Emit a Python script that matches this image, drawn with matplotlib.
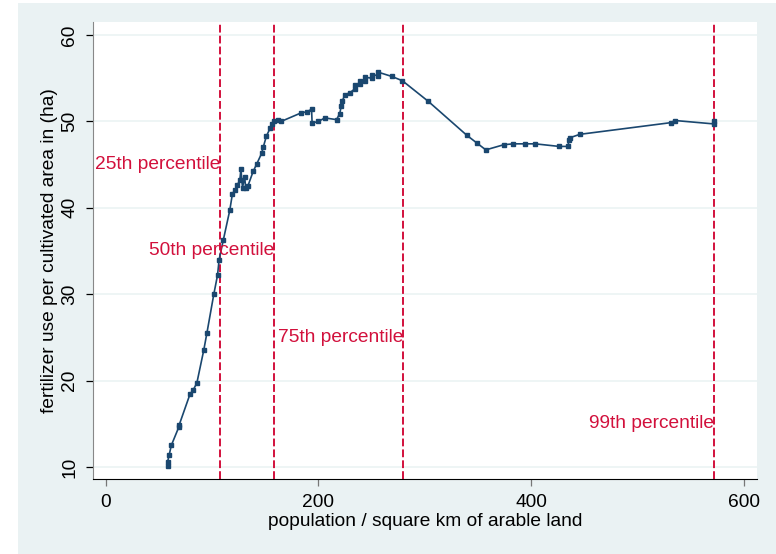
import numpy as np
import matplotlib.pyplot as plt
from matplotlib.patches import Rectangle

# population density vs. fertilizer use (sorted by density)
density = [58, 58, 59.5, 61.5, 68.5, 69, 79, 82, 85.5, 92, 95, 101.5, 105,
           106.5, 110.5, 116.5, 119, 121.5, 123.5, 126, 127, 128.5, 130.5,
           131.5, 133.5, 138.5, 142, 146.5, 148, 151, 154.5, 156, 158.5, 162,
           165, 184, 189, 193.5, 194, 200, 206, 217, 220, 221.5, 222.5, 225,
           229.5, 234.5, 234.5, 239, 239, 244, 244, 250, 250, 256, 256, 269,
           279, 303.5, 339.5, 349, 357.5, 374.5, 383.5, 394.5, 404, 426.5,
           435, 435.5, 436.5, 446, 531.5, 535.5, 572.5, 572.5]
fert = [10.1, 10.6, 11.4, 12.5, 14.6, 14.9, 18.4, 18.9, 19.7, 23.5, 25.5,
        30.0, 32.2, 34.0, 36.3, 39.7, 41.6, 42.1, 42.6, 43.2, 44.5, 42.3,
        43.6, 42.3, 42.5, 44.2, 45.1, 46.3, 47.0, 48.3, 49.2, 49.7, 50.0,
        50.2, 50.0, 51.0, 51.1, 51.4, 49.8, 50.0, 50.4, 50.2, 50.9, 51.8,
        52.4, 53.1, 53.3, 53.8, 54.2, 54.3, 54.7, 54.7, 55.1, 55.0, 55.4,
        55.3, 55.7, 55.2, 54.7, 52.3, 48.4, 47.5, 46.7, 47.3, 47.4, 47.4,
        47.4, 47.1, 47.1, 47.8, 48.1, 48.5, 49.85, 50.1, 49.7, 50.0]

# percentile cut points of density
pct_x = [107.3, 158, 279.5, 572]
pct_txt = ["25th percentile", "50th percentile", "75th percentile",
           "99th percentile"]
pct_y = [45, 35, 25, 15]

xticks = [0, 200, 400, 600]
yticks = [10, 20, 30, 40, 50, 60]

bg = '#EAF2F3'
navy = '#1A476F'
red = '#D2103C'
fs = 13.8

plt.rcParams['font.family'] = ['Liberation Sans', 'DejaVu Sans']

fig = plt.figure(figsize=(7.76, 5.54), dpi=100)
fig.patch.set_facecolor('white')

# shaded graph region behind the plot
bgax = fig.add_axes([0, 0, 1, 1], zorder=-5)
bgax.set_axis_off()
bgax.add_patch(Rectangle((18 / 776, 0), 1 - 18 / 776, 551 / 554,
                         transform=bgax.transAxes, facecolor=bg,
                         edgecolor='none'))

ax = fig.add_axes([93 / 776, 75 / 554, 664 / 776, 457 / 554])
ax.set_facecolor('white')

for yt in yticks:
    ax.axhline(yt, color=bg, lw=1.1, zorder=1)

for xv, txt, yv in zip(pct_x, pct_txt, pct_y):
    ax.axvline(xv, color=red, lw=1.4, dashes=(4, 1.6), zorder=2)
    ax.text(xv, yv, txt, color=red, fontsize=fs, ha='right', va='center',
            zorder=4)

ax.plot(density, fert, color=navy, lw=1.2, marker='s', markersize=2.6,
        zorder=3)

ax.set_xlim(-12.2, 612.7)
ax.set_ylim(8.61, 61.5)
ax.set_xticks(xticks)
ax.set_yticks(yticks)
ax.tick_params(axis='both', labelsize=fs, length=5, width=0.9, direction='out')
ax.tick_params(axis='x', pad=6, color='#777777')
ax.tick_params(axis='y', pad=5.5)
for lab in ax.get_yticklabels():
    lab.set_rotation(90)
    lab.set_va('center')

ax.spines['top'].set_visible(False)
ax.spines['right'].set_visible(False)
ax.spines['left'].set_color('#888888')
ax.spines['bottom'].set_color('black')

ax.set_xlabel("population / square km of arable land", fontsize=fs, labelpad=1)
ax.set_ylabel("fertilizer use per cultivated area in (ha)", fontsize=fs)
ax.yaxis.set_label_coords(-0.052, 0.5)

fig.savefig('out.png', dpi=100, facecolor=fig.get_facecolor())
